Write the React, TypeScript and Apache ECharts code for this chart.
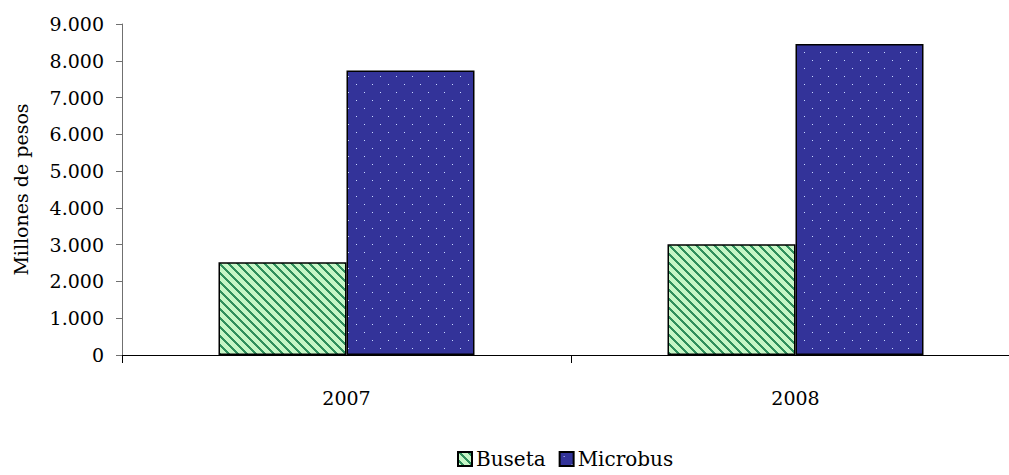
import React, { useEffect, useRef } from "react";
import * as echarts from "echarts";

const categories = ["2007", "2008"];
const busetaValues = [2523, 3013];
const microbusValues = [7738, 8457];
const yTicks = { min: 0, max: 9000, interval: 1000 };

function stripePattern(): string {
  const p = 9;
  const c = document.createElement("canvas");
  c.width = p;
  c.height = p;
  const ctx = c.getContext("2d")!;
  for (let x = 0; x < p; x++) {
    for (let y = 0; y < p; y++) {
      const m = (((x - y) % p) + p) % p;
      ctx.fillStyle = m < 3 ? "#2f8f5c" : "#c6f7c6";
      ctx.fillRect(x, y, 1, 1);
    }
  }
  return c.toDataURL();
}

function dotPattern(): string {
  const s = 16;
  const c = document.createElement("canvas");
  c.width = s;
  c.height = s;
  const ctx = c.getContext("2d")!;
  ctx.fillStyle = "#333399";
  ctx.fillRect(0, 0, s, s);
  ctx.fillStyle = "#c8d8ff";
  ctx.fillRect(4, 4, 1, 1);
  ctx.fillRect(12, 12, 1, 1);
  return c.toDataURL();
}

function fmt(v: number): string {
  return String(v).replace(/\B(?=(\d{3})+(?!\d))/g, ".");
}

export default function App() {
  const ref = useRef<HTMLDivElement>(null);
  useEffect(() => {
    if (!ref.current) return;
    const chart = echarts.init(ref.current, undefined, { renderer: "svg" });
    const font = "'DejaVu Serif', serif";
    chart.setOption({
      animation: false,
      textStyle: { fontFamily: font },
      grid: { left: 122, width: 898, top: 24, height: 331, outerBoundsMode: "none", containLabel: false },
      legend: {
        data: ["Buseta", "Microbus"],
        left: 457,
        top: 449,
        padding: 0,
        icon: "rect",
        itemWidth: 14,
        itemHeight: 14,
        itemGap: 13,
        textStyle: { fontFamily: font, fontSize: 20, color: "#000", padding: [0, 0, 0, -1] },
      },
      xAxis: {
        type: "category",
        data: categories,
        axisLine: { lineStyle: { color: "#000", width: 1 } },
        axisTick: { show: true, alignWithLabel: false, length: 8, lineStyle: { color: "#000" } },
        axisLabel: { fontFamily: font, fontSize: 19, color: "#000", margin: 33 },
      },
      yAxis: {
        type: "value",
        min: yTicks.min,
        max: yTicks.max,
        interval: yTicks.interval,
        name: "Millones de pesos",
        nameLocation: "middle",
        nameRotate: 90,
        nameGap: 92,
        nameTextStyle: { fontFamily: font, fontSize: 19, color: "#000" },
        axisLine: { show: true, lineStyle: { color: "#707070" } },
        axisTick: { show: true, length: 6, lineStyle: { color: "#707070" } },
        axisLabel: { fontFamily: font, fontSize: 19, color: "#000", margin: 18, formatter: (v: number) => fmt(v) },
        splitLine: { show: false },
      },
      series: [
        {
          name: "Buseta",
          type: "bar",
          data: busetaValues,
          barWidth: 128,
          barGap: "0%",
          itemStyle: {
            color: { image: stripePattern(), repeat: "repeat" },
            borderColor: "#000",
            borderWidth: 1.5,
          },
        },
        {
          name: "Microbus",
          type: "bar",
          data: microbusValues,
          barWidth: 128,
          barGap: "0%",
          itemStyle: {
            color: { image: dotPattern(), repeat: "repeat" },
            borderColor: "#000",
            borderWidth: 1.5,
          },
        },
      ],
    });
    return () => chart.dispose();
  }, []);
  return (
    <div
      ref={ref}
      style={{ position: "absolute", left: 0, top: 0, width: 1009, height: 475, background: "#fff" }}
    />
  );
}
